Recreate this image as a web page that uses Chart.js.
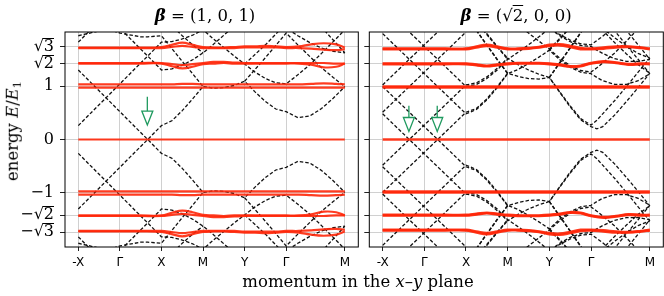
<!DOCTYPE html>
<html>
<head>
<meta charset="utf-8">
<script src="https://cdn.jsdelivr.net/npm/chart.js@4.4.1/dist/chart.umd.min.js"></script>
<style>
  body { margin: 0; background: #fff; }
  #wrap { position: relative; width: 664px; height: 296px; font-family: 'DejaVu Serif', serif; color: #000; }
  canvas { position: absolute; top: 0; }
  #cL { left: 0; }
  #cR { left: 362px; }
  .lbl { position: absolute; white-space: nowrap; line-height: 1; }
  .title { top: 8px; font-size: 16.5px; transform: translateX(-50%); }
  .ov { text-decoration: overline; }
  #ylab { left: 14px; top: 131px; font-size: 16.5px; transform: translate(-50%, -50%) rotate(-90deg); }
  #xlab { left: 358px; top: 274px; font-size: 16.5px; transform: translateX(-50%); }
  sub { font-size: 0.7em; vertical-align: -0.25em; }
</style>
</head>
<body>
<div id="wrap">
  <canvas id="cL" width="362" height="296"></canvas>
  <canvas id="cR" width="302" height="296"></canvas>
  <div class="lbl title" style="left:205px"><b><i>β</i></b> = (1, 0, 1)</div>
  <div class="lbl title" style="left:516px"><b><i>β</i></b> = (√<span class="ov">2</span>, 0, 0)</div>
  <div class="lbl" id="ylab">energy <i>E</i>/<i>E</i><sub>1</sub></div>
  <div class="lbl" id="xlab">momentum in the <i>x</i>–<i>y</i> plane</div>
</div>
<script>
// path coordinate: -X=0, Γ=1, X=2, M=3, Y=4, Γ=5, M=5+√2
const xTickPos = [0, 1, 2, 3, 4, 5, 6.414];
const xTickText = ['-X', 'Γ', 'X', 'M', 'Y', 'Γ', 'M'];
const yTickPos = [-1.732, -1.414, -1, 0, 1, 1.414, 1.732];
const yTickText = ['−√3', '−√2', '−1', '0', '1', '√2', '√3'];

// free (dashed) bands, left panel, sampled on sL
const sL = [0, 0.5, 1, 1.5, 1.67, 2, 2.25, 2.5, 2.75, 3, 3.25, 3.5, 3.75, 4, 4.25, 4.5, 4.75, 5, 5.28, 5.57, 5.85, 6.13, 6.41];
const leftA = [1.30, 0.91, 0.52, 0.13, 0, 0.26, 0.35, 0.54, 0.76, 0.99, 0.96, 0.97, 1.01, 1.09, 0.89, 0.71, 0.57, 0.52, 0.41, 0.44, 0.58, 0.77, 0.99];
const leftB = [0.26, 0.65, 1.04, 1.43, 1.56, 1.82, 1.83, 1.88, 1.95, 2.05, 1.88, 1.72, 1.56, 1.41, 1.26, 1.14, 1.06, 1.04, 1.21, 1.40, 1.61, 1.83, 2.05];
const leftC = [2.86, 2.47, 2.08, 1.69, 1.56, 1.30, 1.32, 1.39, 1.49, 1.62, 1.78, 1.95, 2.12, 2.29, 2.20, 2.14, 2.10, 2.08, 1.94, 1.81, 1.71, 1.65, 1.62];
const leftD = [2.32, 2.12, 1.99, 1.92, 1.92, 1.94, 1.70, 1.46, 1.23, 0.99, null, null, null, 1.09, 1.31, 1.53, 1.76, 1.99, 1.77, 1.55, 1.34, 1.16, 0.99];
const leftE = [1.94, 2.03, 2.18, null, null, null, null, null, null, null, null, null, null, 1.41, 1.59, 1.77, 1.97, 2.18, null, null, null, null, null];
const leftF = [null, null, null, null, null, 2.32, 2.13, 1.94, 1.77, 1.62, null, null, null, null, null, null, null, null, null, 2.34, 2.10, 1.86, 1.62];
const leftG = [1.82, 2.21, null, null, null, null, null, null, null, null, null, null, null, null, null, null, null, null, null, null, null, null, null];
const leftAn = [-1.30, -0.91, -0.52, -0.13, 0, -0.26, -0.35, -0.54, -0.76, -0.99, -0.96, -0.97, -1.01, -1.09, -0.89, -0.71, -0.57, -0.52, -0.41, -0.44, -0.58, -0.77, -0.99];
const leftBn = [-0.26, -0.65, -1.04, -1.43, -1.56, -1.82, -1.83, -1.88, -1.95, -2.05, -1.88, -1.72, -1.56, -1.41, -1.26, -1.14, -1.06, -1.04, -1.21, -1.40, -1.61, -1.83, -2.05];
const leftCn = [-2.86, -2.47, -2.08, -1.69, -1.56, -1.30, -1.32, -1.39, -1.49, -1.62, -1.78, -1.95, -2.12, -2.29, -2.20, -2.14, -2.10, -2.08, -1.94, -1.81, -1.71, -1.65, -1.62];
const leftDn = [-2.32, -2.12, -1.99, -1.92, -1.92, -1.94, -1.70, -1.46, -1.23, -0.99, null, null, null, -1.09, -1.31, -1.53, -1.76, -1.99, -1.77, -1.55, -1.34, -1.16, -0.99];
const leftEn = [-1.94, -2.03, -2.18, null, null, null, null, null, null, null, null, null, null, -1.41, -1.59, -1.77, -1.97, -2.18, null, null, null, null, null];
const leftFn = [null, null, null, null, null, -2.32, -2.13, -1.94, -1.77, -1.62, null, null, null, null, null, null, null, null, null, -2.34, -2.10, -1.86, -1.62];
const leftGn = [-1.82, -2.21, null, null, null, null, null, null, null, null, null, null, null, null, null, null, null, null, null, null, null, null, null];

// free (dashed) bands, right panel, sampled on sR
const sR = [0, 0.64, 1, 1.32, 2, 2.25, 2.5, 2.75, 3, 3.25, 3.5, 3.75, 4, 4.25, 4.5, 4.75, 5, 5.14, 5.28, 5.57, 5.85, 6.13, 6.41];
const rightA = [0.48, 0, 0.27, 0.51, 1.02, 1.06, 1.17, 1.33, 1.52, 1.40, 1.30, 1.22, 1.16, 0.89, 0.63, 0.39, 0.27, 0.36, 0.48, 0.73, 0.99, 1.26, 1.52];
const rightB = [null, null, null, null, null, 2.23, 1.98, 1.74, 1.52, null, null, null, 1.16, 1.44, 1.72, 2.00, 2.28, 2.18, 2.08, 1.90, 1.74, 1.61, 1.52];
const rightC = [0.99, 0.51, 0.24, 0, 0.51, 0.58, 0.76, 0.99, 1.24, 1.18, 1.14, 1.13, 1.16, 0.88, 0.61, 0.37, 0.24, 0.20, 0.24, 0.46, 0.71, 0.97, 1.24];
const rightD = [null, null, null, null, null, 2.04, 1.77, 1.50, 1.24, null, null, null, 1.16, 1.43, 1.71, 1.99, 2.27, 2.15, 2.04, 1.81, 1.60, 1.40, 1.24];
const rightE = [1.98, 1.50, 1.23, 0.99, 0.48, 0.56, 0.74, 0.97, 1.23, 1.31, 1.42, 1.54, 1.67, 1.49, 1.35, 1.26, 1.23, 1.16, 1.10, 1.03, 1.03, 1.10, 1.23];
const rightF = [null, null, null, null, null, 2.04, 1.76, 1.49, 1.23, null, null, null, 1.67, 1.87, 2.10, null, null, null, 2.30, 2.03, 1.76, 1.50, 1.23];
const rightG = [0.51, 0.99, 1.26, 1.50, 2.01, null, null, null, null, 2.15, 1.99, 1.84, 1.69, 1.52, 1.38, 1.29, 1.26, 1.34, 1.43, 1.62, 1.84, 2.07, null];
const rightH = [null, null, null, null, null, null, null, null, null, null, null, null, 1.69, 1.89, 2.10, null, null, null, null, null, null, null, null];
const rightI = [2.49, 2.01, 1.74, 1.50, 0.99, 1.03, 1.14, 1.30, 1.50, 1.63, 1.77, 1.92, 2.08, 1.94, 1.83, 1.76, 1.74, 1.67, 1.61, 1.51, 1.46, 1.46, 1.50];
const rightJ = [null, null, null, null, null, 2.21, 1.96, 1.73, 1.50, null, null, null, null, null, null, null, null, null, null, 2.31, 2.04, 1.77, 1.50];
const rightK = [1.02, 1.50, 1.77, 2.01, 2.52, null, null, null, null, null, null, null, 2.10, 1.96, 1.86, 1.79, 1.77, 1.85, 1.93, 2.12, null, null, null];
const rightAn = [-0.48, 0, -0.27, -0.51, -1.02, -1.06, -1.17, -1.33, -1.52, -1.40, -1.30, -1.22, -1.16, -0.89, -0.63, -0.39, -0.27, -0.36, -0.48, -0.73, -0.99, -1.26, -1.52];
const rightBn = [null, null, null, null, null, -2.23, -1.98, -1.74, -1.52, null, null, null, -1.16, -1.44, -1.72, -2.00, -2.28, -2.18, -2.08, -1.90, -1.74, -1.61, -1.52];
const rightCn = [-0.99, -0.51, -0.24, 0, -0.51, -0.58, -0.76, -0.99, -1.24, -1.18, -1.14, -1.13, -1.16, -0.88, -0.61, -0.37, -0.24, -0.20, -0.24, -0.46, -0.71, -0.97, -1.24];
const rightDn = [null, null, null, null, null, -2.04, -1.77, -1.50, -1.24, null, null, null, -1.16, -1.43, -1.71, -1.99, -2.27, -2.15, -2.04, -1.81, -1.60, -1.40, -1.24];
const rightEn = [-1.98, -1.50, -1.23, -0.99, -0.48, -0.56, -0.74, -0.97, -1.23, -1.31, -1.42, -1.54, -1.67, -1.49, -1.35, -1.26, -1.23, -1.16, -1.10, -1.03, -1.03, -1.10, -1.23];
const rightFn = [null, null, null, null, null, -2.04, -1.76, -1.49, -1.23, null, null, null, -1.67, -1.87, -2.10, null, null, null, -2.30, -2.03, -1.76, -1.50, -1.23];
const rightGn = [-0.51, -0.99, -1.26, -1.50, -2.01, null, null, null, null, -2.15, -1.99, -1.84, -1.69, -1.52, -1.38, -1.29, -1.26, -1.34, -1.43, -1.62, -1.84, -2.07, null];
const rightHn = [null, null, null, null, null, null, null, null, null, null, null, null, -1.69, -1.89, -2.10, null, null, null, null, null, null, null, null];
const rightIn = [-2.49, -2.01, -1.74, -1.50, -0.99, -1.03, -1.14, -1.30, -1.50, -1.63, -1.77, -1.92, -2.08, -1.94, -1.83, -1.76, -1.74, -1.67, -1.61, -1.51, -1.46, -1.46, -1.50];
const rightJn = [null, null, null, null, null, -2.21, -1.96, -1.73, -1.50, null, null, null, null, null, null, null, null, null, null, -2.31, -2.04, -1.77, -1.50];
const rightKn = [-1.02, -1.50, -1.77, -2.01, -2.52, null, null, null, null, null, null, null, -2.10, -1.96, -1.86, -1.79, -1.77, -1.85, -1.93, -2.12, null, null, null];

// flat (red) levels, both panels sampled on sFlat
const sFlat = [0, 0.5, 1, 1.5, 2, 2.25, 2.5, 2.75, 3, 3.25, 3.5, 3.75, 4, 4.25, 4.5, 4.75, 5, 5.3, 5.6, 5.9, 6.2, 6.41];
const lvlL3a = [1.72, 1.72, 1.72, 1.72, 1.73, 1.77, 1.81, 1.77, 1.73, 1.72, 1.72, 1.73, 1.74, 1.74, 1.75, 1.74, 1.73, 1.74, 1.78, 1.80, 1.78, 1.72];
const lvlL3b = [1.71, 1.71, 1.71, 1.71, 1.71, 1.73, 1.75, 1.73, 1.71, 1.71, 1.71, 1.71, 1.72, 1.72, 1.72, 1.72, 1.71, 1.71, 1.70, 1.68, 1.67, 1.69];
const lvlL2a = [1.43, 1.43, 1.43, 1.43, 1.43, 1.41, 1.39, 1.41, 1.43, 1.45, 1.45, 1.44, 1.43, 1.43, 1.43, 1.43, 1.43, 1.43, 1.43, 1.43, 1.42, 1.42];
const lvlL2b = [1.42, 1.42, 1.42, 1.42, 1.42, 1.37, 1.33, 1.36, 1.41, 1.42, 1.43, 1.42, 1.42, 1.42, 1.42, 1.42, 1.42, 1.42, 1.40, 1.35, 1.36, 1.42];
const lvlL1a = [1.03, 1.03, 1.03, 1.03, 1.03, 1.03, 1.04, 1.04, 1.03, 1.03, 1.03, 1.03, 1.03, 1.03, 1.03, 1.03, 1.03, 1.03, 1.04, 1.05, 1.04, 1.03];
const lvlL1b = [0.97, 0.97, 0.97, 0.97, 0.97, 0.97, 0.97, 0.97, 0.97, 0.97, 0.97, 0.97, 0.97, 0.97, 0.97, 0.97, 0.97, 0.97, 0.97, 0.97, 0.97, 0.97];
const lvl0 = [0, 0, 0, 0, 0, 0, 0, 0, 0, 0, 0, 0, 0, 0, 0, 0, 0, 0, 0, 0, 0, 0];
const lvlL1an = [-1.03, -1.03, -1.03, -1.03, -1.03, -1.03, -1.04, -1.04, -1.03, -1.03, -1.03, -1.03, -1.03, -1.03, -1.03, -1.03, -1.03, -1.03, -1.04, -1.05, -1.04, -1.03];
const lvlL1bn = [-0.97, -0.97, -0.97, -0.97, -0.97, -0.97, -0.97, -0.97, -0.97, -0.97, -0.97, -0.97, -0.97, -0.97, -0.97, -0.97, -0.97, -0.97, -0.97, -0.97, -0.97, -0.97];
const lvlL2an = [-1.43, -1.43, -1.43, -1.43, -1.43, -1.41, -1.39, -1.41, -1.43, -1.45, -1.45, -1.44, -1.43, -1.43, -1.43, -1.43, -1.43, -1.43, -1.43, -1.43, -1.42, -1.42];
const lvlL2bn = [-1.42, -1.42, -1.42, -1.42, -1.42, -1.37, -1.33, -1.36, -1.41, -1.42, -1.43, -1.42, -1.42, -1.42, -1.42, -1.42, -1.42, -1.42, -1.40, -1.35, -1.36, -1.42];
const lvlL3an = [-1.72, -1.72, -1.72, -1.72, -1.73, -1.77, -1.81, -1.77, -1.73, -1.72, -1.72, -1.73, -1.74, -1.74, -1.75, -1.74, -1.73, -1.74, -1.78, -1.80, -1.78, -1.72];
const lvlL3bn = [-1.71, -1.71, -1.71, -1.71, -1.71, -1.73, -1.75, -1.73, -1.71, -1.71, -1.71, -1.71, -1.72, -1.72, -1.72, -1.72, -1.71, -1.71, -1.70, -1.68, -1.67, -1.69];

const lvlR3a = [1.70, 1.70, 1.70, 1.70, 1.70, 1.74, 1.77, 1.74, 1.70, 1.70, 1.71, 1.73, 1.77, 1.78, 1.75, 1.71, 1.70, 1.72, 1.74, 1.74, 1.72, 1.70];
const lvlR3b = [1.69, 1.69, 1.69, 1.69, 1.69, 1.72, 1.75, 1.72, 1.69, 1.69, 1.70, 1.72, 1.75, 1.76, 1.73, 1.69, 1.69, 1.70, 1.72, 1.73, 1.71, 1.69];
const lvlR2a = [1.42, 1.42, 1.42, 1.42, 1.42, 1.40, 1.38, 1.40, 1.42, 1.43, 1.43, 1.43, 1.42, 1.40, 1.37, 1.38, 1.43, 1.46, 1.44, 1.41, 1.42, 1.42];
const lvlR2b = [1.41, 1.41, 1.41, 1.41, 1.41, 1.39, 1.37, 1.39, 1.41, 1.42, 1.42, 1.42, 1.41, 1.39, 1.36, 1.37, 1.42, 1.45, 1.43, 1.40, 1.41, 1.41];
const lvlR1a = [0.99, 0.99, 0.99, 0.99, 0.99, 0.99, 0.99, 0.99, 0.99, 0.99, 0.99, 0.99, 0.99, 0.99, 0.99, 0.99, 0.99, 0.99, 0.99, 0.99, 0.99, 0.99];
const lvlR1b = [0.975, 0.975, 0.975, 0.975, 0.975, 0.975, 0.975, 0.975, 0.975, 0.975, 0.975, 0.975, 0.975, 0.975, 0.975, 0.975, 0.975, 0.975, 0.975, 0.975, 0.975, 0.975];
const lvlR1an = [-0.99, -0.99, -0.99, -0.99, -0.99, -0.99, -0.99, -0.99, -0.99, -0.99, -0.99, -0.99, -0.99, -0.99, -0.99, -0.99, -0.99, -0.99, -0.99, -0.99, -0.99, -0.99];
const lvlR1bn = [-0.975, -0.975, -0.975, -0.975, -0.975, -0.975, -0.975, -0.975, -0.975, -0.975, -0.975, -0.975, -0.975, -0.975, -0.975, -0.975, -0.975, -0.975, -0.975, -0.975, -0.975, -0.975];
const lvlR2an = [-1.42, -1.42, -1.42, -1.42, -1.42, -1.40, -1.38, -1.40, -1.42, -1.43, -1.43, -1.43, -1.42, -1.40, -1.37, -1.38, -1.43, -1.46, -1.44, -1.41, -1.42, -1.42];
const lvlR2bn = [-1.41, -1.41, -1.41, -1.41, -1.41, -1.39, -1.37, -1.39, -1.41, -1.42, -1.42, -1.42, -1.41, -1.39, -1.36, -1.37, -1.42, -1.45, -1.43, -1.40, -1.41, -1.41];
const lvlR3an = [-1.70, -1.70, -1.70, -1.70, -1.70, -1.74, -1.77, -1.74, -1.70, -1.70, -1.71, -1.73, -1.77, -1.78, -1.75, -1.71, -1.70, -1.72, -1.74, -1.74, -1.72, -1.70];
const lvlR3bn = [-1.69, -1.69, -1.69, -1.69, -1.69, -1.72, -1.75, -1.72, -1.69, -1.69, -1.70, -1.72, -1.75, -1.76, -1.73, -1.69, -1.69, -1.70, -1.72, -1.73, -1.71, -1.69];

// green arrows marking the Dirac points
const arrowsL = [{ s: 1.66, from: 0.80, to: 0.27 }];
const arrowsR = [{ s: 0.63, from: 0.63, to: 0.15 }, { s: 1.31, from: 0.63, to: 0.15 }];

function pts(grid, vals) {
  return grid.map((s, i) => ({ x: s, y: vals[i] }));
}
function dashed(grid, vals) {
  return { data: pts(grid, vals), borderColor: '#111', borderWidth: 1.3, borderDash: [3.5, 2],
    pointRadius: 0, tension: 0, order: 2, clip: 0 };
}
function level(width) {
  return vals => ({ data: pts(sFlat, vals), borderColor: 'rgba(255,38,8,0.9)', borderWidth: width,
    pointRadius: 0, tension: 0.4, order: 1, clip: 0 });
}

const framePlugin = {
  id: 'frame',
  afterDatasetsDraw(chart, args, opts) {
    const { ctx, chartArea: a, scales } = chart;
    ctx.save();
    ctx.strokeStyle = '#1f9a5f';
    ctx.lineWidth = 1.3;
    (opts.arrows || []).forEach(ar => {
      const x = scales.x.getPixelForValue(ar.s);
      const y0 = scales.y.getPixelForValue(ar.from);
      const y1 = scales.y.getPixelForValue(ar.to);
      ctx.beginPath();
      ctx.moveTo(x, y0);
      ctx.lineTo(x, y1 - 14);
      ctx.stroke();
      ctx.beginPath();
      ctx.moveTo(x - 5.5, y1 - 14);
      ctx.lineTo(x + 5.5, y1 - 14);
      ctx.lineTo(x, y1);
      ctx.closePath();
      ctx.stroke();
    });
    ctx.strokeStyle = '#000';
    ctx.lineWidth = 1;
    ctx.strokeRect(a.left, a.top, a.right - a.left, a.bottom - a.top);
    if (opts.roots) {
      const ys = scales.y;
      ctx.font = '16px "DejaVu Serif"';
      yTickPos.forEach((v, i) => {
        const t = yTickText[i];
        if (t.indexOf('√') < 0) return;
        const y = Math.round(ys.getPixelForValue(v)) - 8.5;
        const xr = ys.right - 11;
        const w = ctx.measureText(t.slice(-1)).width;
        ctx.beginPath();
        ctx.moveTo(xr - w - 1, y);
        ctx.lineTo(xr, y);
        ctx.stroke();
      });
    }
    ctx.restore();
  }
};

function makeChart(id, datasets, arrows, withLabels, padRight) {
  new Chart(document.getElementById(id), {
    type: 'line',
    data: { datasets },
    plugins: [framePlugin],
    options: {
      responsive: false,
      animation: false,
      devicePixelRatio: 1,
      spanGaps: false,
      layout: { padding: { top: 32, right: padRight, left: 0, bottom: 0 } },
      plugins: {
        legend: { display: false },
        tooltip: { enabled: false },
        frame: { arrows, roots: withLabels }
      },
      scales: {
        x: {
          type: 'linear', min: -0.32, max: 6.734,
          afterBuildTicks: sc => { sc.ticks = xTickPos.map(v => ({ value: v })); },
          afterFit: sc => { sc.height = 49; },
          ticks: {
            callback: (v, i) => xTickText[i],
            font: { family: 'DejaVu Sans', size: 12 }, color: '#000',
            padding: 5, maxRotation: 0, autoSkip: false
          },
          grid: { color: '#d0d0d0', lineWidth: 1, tickColor: '#222', tickLength: 4 },
          border: { display: false }
        },
        y: {
          type: 'linear', min: -2.01, max: 2.01,
          afterBuildTicks: sc => { sc.ticks = yTickPos.map(v => ({ value: v })); },
          afterFit: sc => { sc.width = withLabels ? 65 : 7.3; },
          ticks: {
            display: withLabels,
            callback: (v, i) => yTickText[i],
            font: { family: 'DejaVu Serif', size: 16 }, color: '#000',
            padding: 6, autoSkip: false
          },
          grid: { color: '#d0d0d0', lineWidth: 1, tickColor: '#222', tickLength: 5 },
          border: { display: false }
        }
      }
    }
  });
}

const leftSets = [leftA, leftB, leftC, leftD, leftE, leftF, leftG,
  leftAn, leftBn, leftCn, leftDn, leftEn, leftFn, leftGn].map(v => dashed(sL, v))
  .concat([lvlL3a, lvlL3b, lvlL2a, lvlL2b, lvlL1a, lvlL1b, lvl0,
    lvlL1an, lvlL1bn, lvlL2an, lvlL2bn, lvlL3an, lvlL3bn].map(level(2.2)));

const rightSets = [rightA, rightB, rightC, rightD, rightE, rightF, rightG, rightH, rightI, rightJ, rightK,
  rightAn, rightBn, rightCn, rightDn, rightEn, rightFn, rightGn, rightHn, rightIn, rightJn, rightKn]
  .map(v => dashed(sR, v))
  .concat([lvlR3a, lvlR3b, lvlR2a, lvlR2b, lvlR1a, lvlR1b, lvl0,
    lvlR1an, lvlR1bn, lvlR2an, lvlR2bn, lvlR3an, lvlR3bn].map(level(2.6)));

makeChart('cL', leftSets, arrowsL, true, 3.7);
makeChart('cR', rightSets, arrowsR, false, 0.7);
</script>
</body>
</html>
